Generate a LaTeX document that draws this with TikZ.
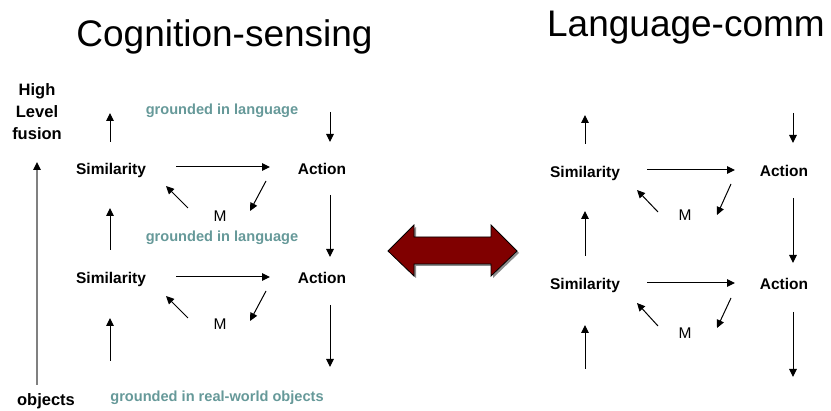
\documentclass[tikz,border=0pt]{standalone}
\usepackage{fontspec}
\setmainfont{Liberation Sans}
\usetikzlibrary{arrows.meta}
\definecolor{teal1}{RGB}{102,153,153}
\definecolor{darkred1}{RGB}{128,0,0}
\tikzset{
  lbl/.style={inner sep=0pt, anchor=base, font=\bfseries\fontsize{15.5}{18}\selectfont},
  mlbl/.style={inner sep=0pt, anchor=base, font=\fontsize{15.5}{18}\selectfont},
  gnd/.style={inner sep=0pt, anchor=base, text=teal1, font=\bfseries\fontsize{14.6}{17}\selectfont},
  side/.style={inner sep=0pt, anchor=base, font=\bfseries\fontsize{16.5}{22}\selectfont},
  ttl/.style={inner sep=0pt, anchor=base, font=\fontsize{37}{40}\selectfont},
  arr/.style={line width=1pt, -{Triangle[length=8pt,width=7.5pt]}},
  garr/.style={line width=1.4pt, draw=black!50, -{Triangle[length=8pt,width=7.5pt,color=black]}},
}
\begin{document}
\begin{tikzpicture}[x=1pt,y=-1pt]
\useasboundingbox (0,0) rectangle (831,411);
% titles
\node[ttl] (t1) at (224.5,47) {Cognition-sensing};
\node[ttl] (t2) at (686,37) {Language-comm};
% side labels
\node[side] (h1) at (37,96) {High};
\node[side] (h2) at (37,118) {Level};
\node[side] (h3) at (37,140) {fusion};
\node[side] (obj) at (46,406) {objects};
\coordinate (gA) at (37,385);
\coordinate (gB) at (37,162);
\draw[garr] (gA) -- (gB);
% left panel nodes
\node[lbl] (s1) at (111,174.5) {Similarity};
\node[lbl] (a1) at (322,174.5) {Action};
\node[mlbl] (m1) at (220,221.5) {M};
\node[lbl] (s2) at (111,283.5) {Similarity};
\node[lbl] (a2) at (322,283.5) {Action};
\node[mlbl] (m2) at (220,329.5) {M};
\node[gnd] (g1) at (222,115) {grounded in language};
\node[gnd] (g2) at (222,242) {grounded in language};
\node[gnd] (g3) at (217,402) {grounded in real-world objects};
% left arrows
\coordinate (p1) at (110,142); \coordinate (p2) at (110,113);
\draw[arr] (p1) -- (p2);
\coordinate (p3) at (330,112); \coordinate (p4) at (330,142);
\draw[arr] (p3) -- (p4);
\coordinate (p5) at (176,167); \coordinate (p6) at (270,167);
\draw[arr] (p5) -- (p6);
\coordinate (p7) at (188,208); \coordinate (p8) at (166,186);
\draw[arr] (p7) -- (p8);
\coordinate (p9) at (266,181); \coordinate (p10) at (250,211);
\draw[arr] (p9) -- (p10);
\coordinate (p11) at (330,195); \coordinate (p12) at (330,257);
\draw[arr] (p11) -- (p12);
\coordinate (p13) at (110,250); \coordinate (p14) at (110,208);
\draw[arr] (p13) -- (p14);
\coordinate (p15) at (176,277); \coordinate (p16) at (270,277);
\draw[arr] (p15) -- (p16);
\coordinate (p17) at (188,318); \coordinate (p18) at (166,296);
\draw[arr] (p17) -- (p18);
\coordinate (p19) at (266,291); \coordinate (p20) at (250,321);
\draw[arr] (p19) -- (p20);
\coordinate (p21) at (110,361); \coordinate (p22) at (110,318);
\draw[arr] (p21) -- (p22);
\coordinate (p23) at (330,305); \coordinate (p24) at (330,367);
\draw[arr] (p23) -- (p24);
% double arrow
\fill[black!45] (390,253) -- (416,227) -- (416,239) -- (493,239) -- (493,227) -- (519,253) -- (493,278) -- (493,266) -- (416,266) -- (416,278) -- cycle;
\draw[fill=darkred1, line width=0.8pt] (388,251) -- (414,225) -- (414,237) -- (491,237) -- (491,225) -- (517,251) -- (491,276) -- (491,264) -- (414,264) -- (414,276) -- cycle;
% right panel nodes
\node[lbl] (s3) at (585,177.5) {Similarity};
\node[lbl] (a3) at (784,176.5) {Action};
\node[mlbl] (m3) at (685,220.5) {M};
\node[lbl] (s4) at (585,289.5) {Similarity};
\node[lbl] (a4) at (784,289.5) {Action};
\node[mlbl] (m4) at (685,338.5) {M};
% right arrows
\coordinate (q1) at (585,144); \coordinate (q2) at (585,115);
\draw[arr] (q1) -- (q2);
\coordinate (q3) at (793,113); \coordinate (q4) at (793,143);
\draw[arr] (q3) -- (q4);
\coordinate (q5) at (647,170); \coordinate (q6) at (735,170);
\draw[arr] (q5) -- (q6);
\coordinate (q7) at (658,212); \coordinate (q8) at (637,190);
\draw[arr] (q7) -- (q8);
\coordinate (q9) at (731,184); \coordinate (q10) at (717,215);
\draw[arr] (q9) -- (q10);
\coordinate (q11) at (585,256); \coordinate (q12) at (585,211);
\draw[arr] (q11) -- (q12);
\coordinate (q13) at (793,198); \coordinate (q14) at (793,263);
\draw[arr] (q13) -- (q14);
\coordinate (q15) at (647,283); \coordinate (q16) at (735,283);
\draw[arr] (q15) -- (q16);
\coordinate (q17) at (658,326); \coordinate (q18) at (637,303);
\draw[arr] (q17) -- (q18);
\coordinate (q19) at (731,298); \coordinate (q20) at (717,328);
\draw[arr] (q19) -- (q20);
\coordinate (q21) at (585,369); \coordinate (q22) at (585,325);
\draw[arr] (q21) -- (q22);
\coordinate (q23) at (793,312); \coordinate (q24) at (793,377);
\draw[arr] (q23) -- (q24);
\end{tikzpicture}
\end{document}
